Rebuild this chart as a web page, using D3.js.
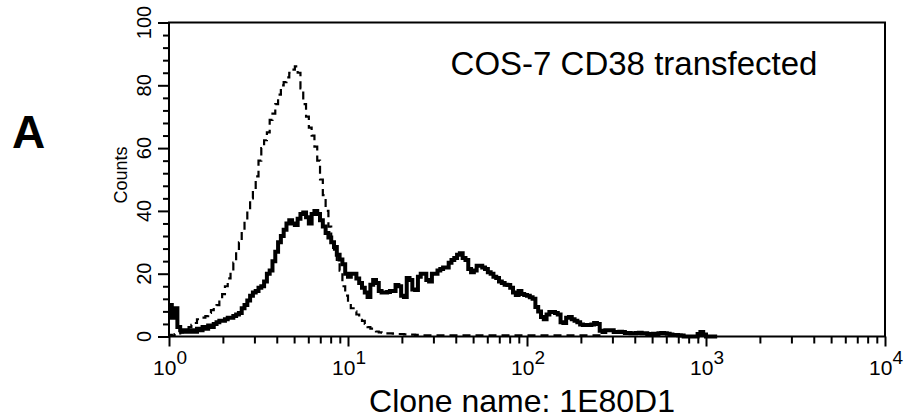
<!DOCTYPE html>
<html><head><meta charset="utf-8">
<script src="https://cdn.jsdelivr.net/npm/d3@7"></script>
<style>
body{margin:0;background:#fff}
svg{display:block}
text{font-family:"Liberation Sans",Arial,Helvetica,sans-serif;fill:#000}
</style>
</head><body>
<svg id="chart" width="915" height="420"></svg>
<script>
// ---- data ----
const channelsPerDecade = 64;          // FACS log channels, 4 decades
const xDomain = [1, 10000];
const yDomain = [0, 100];
const xMajorTicks = [1, 10, 100, 1000, 10000];
const xTickBases = ["10", "10", "10", "10", "10"];
const xTickExps = ["0", "1", "2", "3", "4"];
const yMajorTicks = [0, 20, 40, 60, 80, 100];
const yMinorTicks = [4, 8, 12, 16, 24, 28, 32, 36, 44, 48, 52, 56, 64, 68, 72, 76, 84, 88, 92, 96];
const yAxisLabel = "Counts";
const xAxisLabel = "Clone name: 1E80D1";
const panelLabel = "A";
const sampleLabel = "COS-7 CD38 transfected";

// CD38 antibody stained (solid, thick) — counts per channel
const stainedCounts = [
  10,6,9,3,2,1.5,2,1.5,2,1.5,
  2.5,2,3,2.5,3.5,3,4,4.5,5,5,
  5.5,6,6,6.5,7,7.5,9,10,11.5,13,
  14,14.5,15.5,16,17.5,20,21,24,27,30,
  32,34,36,37,36,35.5,37.5,39,39.5,38,
  36,39,40,39,37,35,33,31.5,30,28.5,
  26,24.5,23,20,19,20,20,18.5,17,15.5,
  14,12.6,16.5,18,17,14.5,14,14,14.2,14.5,
  14.5,16.4,16,13,12.6,18.6,18,15,14.8,19,
  20,20,18,17.5,20,20,21,21.5,22,22,
  23.5,24.4,25,26,26.5,25,24.4,21.5,20.5,21,
  22.5,22.5,22,21.5,20.5,20,19,18.6,17.5,17,
  16.5,16.4,15.5,14,13.2,14.5,13.5,13.2,13,12.5,
  12,9.4,8,6.2,5.5,7,7.8,7.8,7.5,7,
  4.5,4.3,6,6.2,5.5,5,4.5,3.8,3.7,3.7,
  3.7,3.8,4.3,4,1.8,1.4,2,2,2,1.4,
  1.4,1.5,1.4,1.1,1.1,1,1,1.1,1.2,1,
  1,0.8,0.8,0.9,0.8,1,1.1,1,0.9,0.6,
  0.5,0.5,0.4,0.3,0,0,0,0,0,0.8,
  1.4,0.6,0,0,0,0
];

// isotype control (dashed, thin) — counts per channel
const controlCounts = [
  0.5,0.3,0.8,1,1.3,1.6,2,3,3.7,4.3,
  5.5,6,6,6.5,7.5,8.4,9.2,10,11.8,13.5,
  16,18.5,21,23.5,27,30,33.5,37,40.5,44,
  47,51,56,60,62.5,65,69,71,74,77,
  80,81,82.5,84,85,86,84,79,74,70,
  66.5,64,60.5,56,50,45,40,35,31,27,
  24,21,16,13,10.5,9,8,7,6.3,5,
  4,3,2.5,2,1.6,1.3,1.2,1,1,1,
  0.9,0.8,0.8,0.8,0.7,0.7,0.6,0.6,0.5,0.5,
  0.4,0.4,0.4,0.4,0.4,0.4,0.4,0.4,0.4,0.4,
  0.4,0.4,0.4,0.4,0.4,0.4,0.4,0.4,0.4,0.4,
  0.4,0.4,0.4,0.4,0.4,0.4,0.4,0.4,0.4,0.4,
  0.4,0.4,0.4,0.4,0.4,0.4,0.4,0.4,0.4,0.4,
  0.4,0.4,0.4,0.4,0.4,0.4,0.4,0.4,0.4,0.4,
  0.4,0.4,0.4,0.4,0.4,0.4,0.4,0.4,0.4,0.4,
  0.4,0.4,0.4,0.4,0.4,0.4
];

// ---- drawing ----
const svg = d3.select("#chart");
const L = 169, R = 885, T = 22.5, B = 336.5;
const x = d3.scaleLog().domain(xDomain).range([L, R]);
const y = d3.scaleLinear().domain(yDomain).range([B, T]);

const edge = i => Math.pow(10, i / channelsPerDecade);
const toSteps = counts => counts.map((c, i) => [edge(i), c])
  .concat([[edge(counts.length), counts[counts.length - 1]]]);

const line = d3.line().x(d => x(d[0])).y(d => y(d[1])).curve(d3.curveStepAfter);

svg.append("path").datum(toSteps(controlCounts))
  .attr("d", line).attr("fill", "none").attr("stroke", "#000")
  .attr("stroke-width", 2.2).attr("stroke-dasharray", "8,5");

svg.append("path").datum(toSteps(stainedCounts))
  .attr("d", line).attr("fill", "none").attr("stroke", "#000")
  .attr("stroke-width", 4).attr("stroke-linejoin", "miter");

// frame
svg.append("rect").attr("x", L).attr("y", T).attr("width", R - L).attr("height", B - T)
  .attr("fill", "none").attr("stroke", "#000").attr("stroke-width", 2);

// x axis ticks
const xMinor = [];
xMajorTicks.slice(0, -1).forEach(d => { for (let k = 2; k <= 9; k++) xMinor.push(d * k); });
const styleTicks = g => { g.select(".domain").remove(); g.selectAll("line").attr("stroke-width", 2); };
svg.append("g").attr("transform", `translate(0,${B})`)
  .call(d3.axisBottom(x).tickValues(xMinor).tickSize(7).tickFormat("")).call(styleTicks);
svg.append("g").attr("transform", `translate(0,${B})`)
  .call(d3.axisBottom(x).tickValues(xMajorTicks).tickSize(10).tickFormat("")).call(styleTicks);

xMajorTicks.forEach((v, i) => {
  const t = svg.append("text").attr("x", x(v) + 1).attr("y", 375)
    .attr("text-anchor", "middle").attr("font-size", 21);
  t.append("tspan").text(xTickBases[i]);
  t.append("tspan").attr("dy", -11).attr("font-size", 19).text(xTickExps[i]);
});

// y axis ticks
svg.append("g").attr("transform", `translate(${L},0)`)
  .call(d3.axisLeft(y).tickValues(yMinorTicks).tickSize(6).tickFormat("")).call(styleTicks);
svg.append("g").attr("transform", `translate(${L},0)`)
  .call(d3.axisLeft(y).tickValues(yMajorTicks).tickSize(11).tickFormat("")).call(styleTicks);

yMajorTicks.forEach(v => {
  svg.append("text").attr("transform", `translate(151,${y(v)}) rotate(-90)`)
    .attr("text-anchor", "middle").attr("font-size", 20).text(v);
});

svg.append("text").attr("transform", "translate(127,175) rotate(-90)")
  .attr("text-anchor", "middle").attr("font-size", 18).text(yAxisLabel);

svg.append("text").attr("x", 522).attr("y", 412).attr("text-anchor", "middle")
  .attr("font-size", 32).text(xAxisLabel);

svg.append("text").attr("x", 634).attr("y", 75).attr("text-anchor", "middle")
  .attr("font-size", 33).text(sampleLabel);

svg.append("text").attr("x", 12).attr("y", 148).attr("font-weight", "bold")
  .attr("font-size", 46).text(panelLabel);
</script>
</body></html>
